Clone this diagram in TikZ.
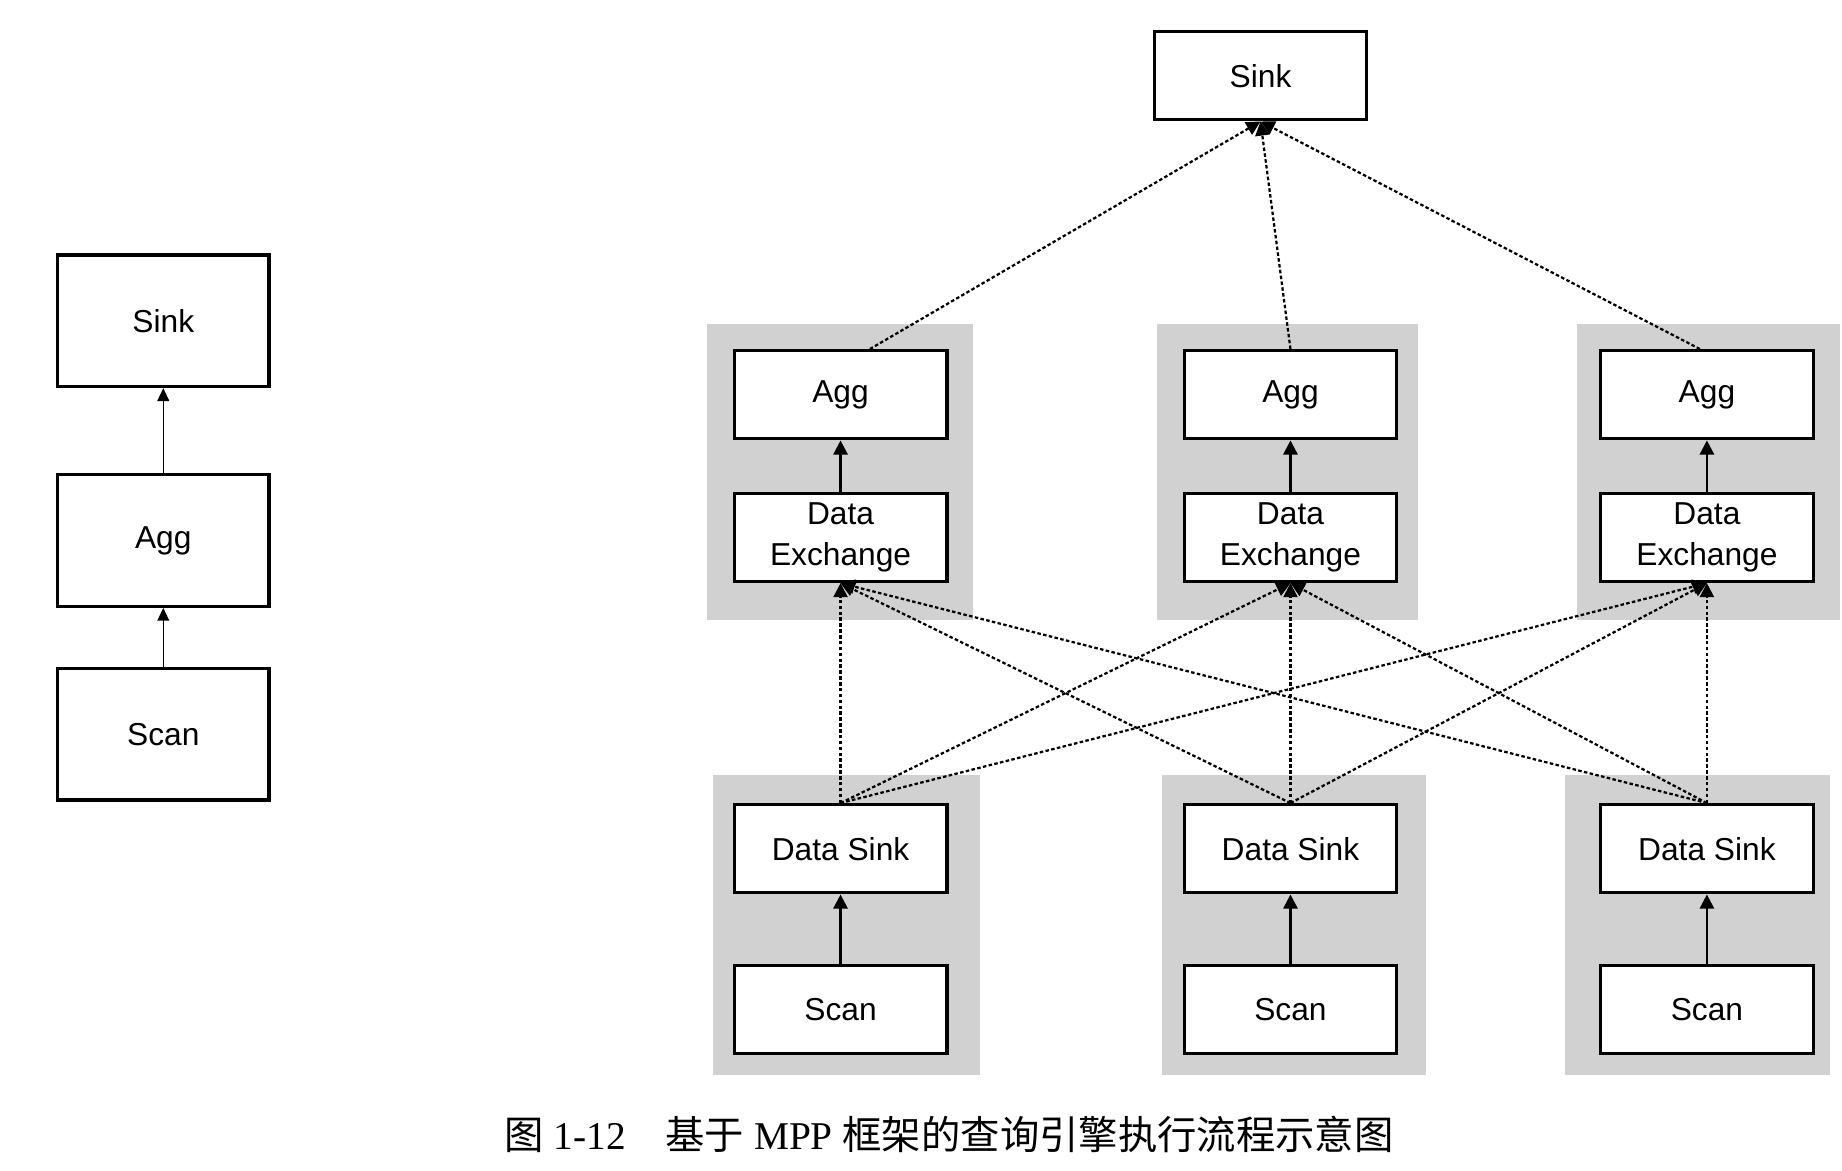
\documentclass[tikz,border=0pt]{standalone}
\usepackage{fontspec}
\setmainfont{Liberation Serif}
\setsansfont{Liberation Sans}
\newfontfamily\cjk{Noto Sans CJK SC}
\usetikzlibrary{arrows.meta}

\begin{document}
\begin{tikzpicture}[
		x=1pt, y=-1pt,
		every node/.style={draw, line width=2.8pt, fill=white, inner sep=0pt, align=center,
			font=\sffamily\fontsize{27}{35}\selectfont},
		op/.style={minimum width=181pt, minimum height=75pt},
		tall/.style={minimum width=180pt, minimum height=112pt},
		panel/.style={fill=black!18},
		flow/.style={-{Triangle[width=12pt,length=12pt]}, line width=2pt},
		thinflow/.style={-{Triangle[width=10pt,length=11pt]}, line width=1.3pt},
		shuffle/.style={-{Triangle[width=12pt,length=12pt]}, line width=1.9pt, dash pattern=on 3pt off 2pt}
		]
		\useasboundingbox (0,0) rectangle (1568,996);
		\fill[panel] (602,276) rectangle (828,528);
		\fill[panel] (985,276) rectangle (1207,528);
		\fill[panel] (1342,276) rectangle (1566,528);
		\fill[panel] (607,660) rectangle (834,915);
		\fill[panel] (989,660) rectangle (1214,915);
		\fill[panel] (1332,660) rectangle (1558,915);

		\node[tall] (sink) at (139,273) {Sink};
		\node[tall] (agg) at (139,460) {Agg};
		\node[tall] (scan) at (139,625) {Scan};

		\node[op] (root) at (1073,64.5) {Sink};
		\node[op] (agg1) at (715.5,336) {Agg};
		\node[op] (exch1) at (715.5,457.5) {Data\\Exchange};
		\node[op] (agg2) at (1098.5,336) {Agg};
		\node[op] (exch2) at (1098.5,457.5) {Data\\Exchange};
		\node[op] (agg3) at (1453,336) {Agg};
		\node[op] (exch3) at (1453,457.5) {Data\\Exchange};
		\node[op] (dsink1) at (715.5,722.5) {Data Sink};
		\node[op] (scan1) at (715.5,859.5) {Scan};
		\node[op] (dsink2) at (1098.5,722.5) {Data Sink};
		\node[op] (scan2) at (1098.5,859.5) {Scan};
		\node[op] (dsink3) at (1453,722.5) {Data Sink};
		\node[op] (scan3) at (1453,859.5) {Scan};

		\node[draw=none, fill=none, font=\rmfamily\fontsize{33.5}{33.5}\selectfont] (caption) at (808,966)
			{{\cjk 图} 1-12\hspace{1em}{\cjk 基于} MPP {\cjk 框架的查询引擎执行流程示意图}};

		\draw[thinflow] (agg) -- (sink);
		\draw[thinflow] (scan) -- (agg);

		\draw[flow] (exch1) -- (agg1);
		\draw[flow] (exch2) -- (agg2);
		\draw[flow] (exch3) -- (agg3);
		\draw[flow] (scan1) -- (dsink1);
		\draw[flow] (scan2) -- (dsink2);
		\draw[flow] (scan3) -- (dsink3);

		\draw[shuffle] ([xshift=25pt]agg1.north) -- (root.south);
		\draw[shuffle] (agg2.north) -- (root.south);
		\draw[shuffle] ([xshift=-6pt]agg3.north) -- (root.south);

		\draw[shuffle] (dsink1.north) -- (exch1.south);
		\draw[shuffle] (dsink1.north) -- (exch2.south);
		\draw[shuffle] (dsink1.north) -- (exch3.south);
		\draw[shuffle] (dsink2.north) -- (exch1.south);
		\draw[shuffle] (dsink2.north) -- (exch2.south);
		\draw[shuffle] (dsink2.north) -- (exch3.south);
		\draw[shuffle] (dsink3.north) -- (exch1.south);
		\draw[shuffle] (dsink3.north) -- (exch2.south);
		\draw[shuffle] (dsink3.north) -- (exch3.south);
	\end{tikzpicture}
\end{document}
